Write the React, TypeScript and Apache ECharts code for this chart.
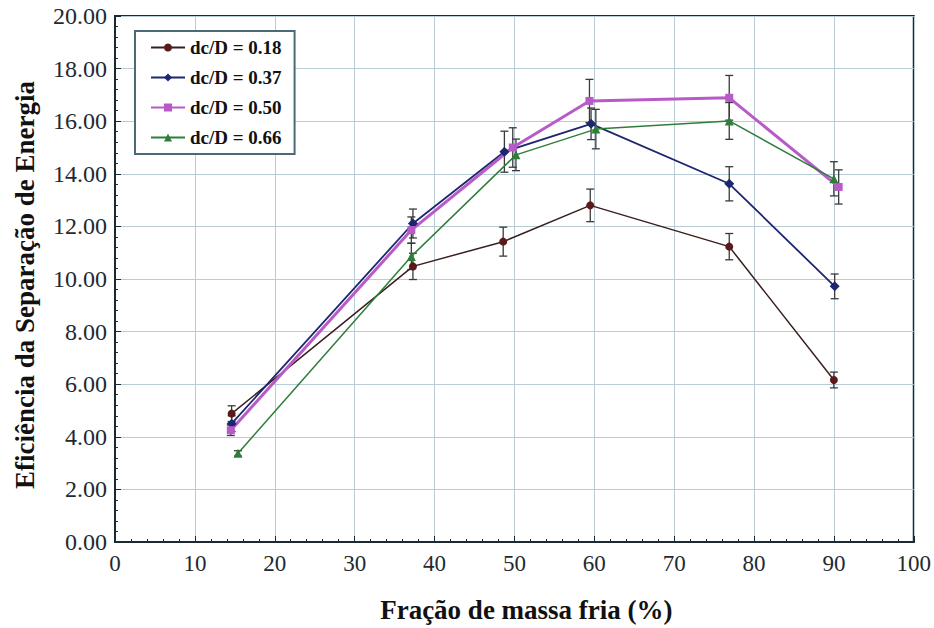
import React, { useEffect, useRef } from "react";
import * as echarts from "echarts";

const seriesNames = ["dc/D = 0.18", "dc/D = 0.37", "dc/D = 0.50", "dc/D = 0.66"];

const x018 = [14.6, 37.3, 48.6, 59.5, 76.9, 90.0];
const y018 = [4.88, 10.48, 11.42, 12.8, 11.23, 6.16];
const e018 = [0.3, 0.5, 0.55, 0.62, 0.5, 0.3];

const x037 = [14.6, 37.3, 48.75, 59.6, 76.9, 90.1];
const y037 = [4.5, 12.11, 14.84, 15.9, 13.62, 9.72];
const e037 = [0.3, 0.55, 0.78, 0.6, 0.65, 0.47];

const x050 = [14.5, 37.1, 49.8, 59.4, 76.9, 90.6];
const y050 = [4.25, 11.86, 15.0, 16.77, 16.89, 13.5];
const e050 = [0.2, 0.5, 0.75, 0.82, 0.85, 0.65];

const x066 = [15.4, 37.1, 50.2, 60.2, 76.9, 90.0];
const y066 = [3.37, 10.86, 14.72, 15.7, 16.01, 13.81];
const e066 = [0.1, 0.5, 0.6, 0.75, 0.7, 0.65];

const colors = ["#5a1a1a", "#1c2770", "#b95ac9", "#2f7d3a"];
const lineColors = ["#3a1e1e", "#1c2770", "#b95ac9", "#2f7d3a"];
const symbols = ["circle", "diamond", "rect", "triangle"];
const symbolSizes = [8, 10, 8, 9];
const lineWidths = [1.5, 1.8, 3, 1.5];

const xs = [x018, x037, x050, x066];
const ys = [y018, y037, y050, y066];
const es = [e018, e037, e050, e066];

const serif = "'Liberation Serif', 'DejaVu Serif', serif";

export default function App() {
  const ref = useRef<HTMLDivElement>(null);
  useEffect(() => {
    document.body.style.margin = "0";
    const chart = echarts.init(ref.current!, null, { renderer: "svg" });
    const lineSeries: any[] = seriesNames.map((name, i) => ({
      name,
      type: "line",
      data: xs[i].map((x, j) => [x, ys[i][j]]),
      symbol: symbols[i],
      symbolSize: symbolSizes[i],
      itemStyle: { color: colors[i] },
      lineStyle: { color: lineColors[i], width: lineWidths[i] },
      z: 3,
    }));
    const errSeries: any[] = seriesNames.map((name, i) => ({
      name: name + " err",
      type: "custom",
      data: xs[i].map((x, j) => [x, ys[i][j] - es[i][j], ys[i][j] + es[i][j]]),
      encode: { x: 0, y: [1, 2] },
      z: 2,
      silent: true,
      renderItem: (params: any, api: any) => {
        const x = api.value(0);
        const lo = api.value(1);
        const hi = api.value(2);
        const p1 = api.coord([x, hi]);
        const p2 = api.coord([x, lo]);
        const w = 4;
        const st = { stroke: "#3a3a3a", lineWidth: 1.3 };
        return {
          type: "group",
          children: [
            { type: "line", shape: { x1: p1[0], y1: p1[1], x2: p2[0], y2: p2[1] }, style: st },
            { type: "line", shape: { x1: p1[0] - w, y1: p1[1], x2: p1[0] + w, y2: p1[1] }, style: st },
            { type: "line", shape: { x1: p2[0] - w, y1: p2[1], x2: p2[0] + w, y2: p2[1] }, style: st },
          ],
        };
      },
    }));
    chart.setOption({
      animation: false,
      backgroundColor: "#ffffff",
      grid: {
        left: 115,
        right: 19,
        top: 16,
        bottom: 82,
        show: true,
        borderColor: "#1a2a30",
        borderWidth: 2,
      },
      legend: {
        data: seriesNames,
        orient: "vertical",
        left: 135,
        top: 31,
        itemWidth: 34,
        itemHeight: 10,
        itemGap: 11,
        padding: [7, 13, 7, 15],
        borderColor: "#4a6a78",
        borderWidth: 2,
        backgroundColor: "#ffffff",
        textStyle: { fontFamily: serif, fontWeight: "bold", fontSize: 19, color: "#111" },
      },
      xAxis: {
        type: "value",
        min: 0,
        max: 100,
        interval: 10,
        name: "Fração de massa fria (%)",
        nameLocation: "middle",
        nameGap: 54,
        nameTextStyle: {
          fontFamily: serif,
          fontWeight: "bold",
          fontSize: 27,
          color: "#111",
          padding: [0, 0, 0, 24],
        },
        axisLine: { show: true, lineStyle: { color: "#1a2a30", width: 2 } },
        axisTick: { show: true, inside: true, length: 6, lineStyle: { color: "#1a2a30" } },
        minorTick: { show: true, splitNumber: 5, length: 3, lineStyle: { color: "#1a2a30" } },
        axisLabel: { fontFamily: serif, fontSize: 23, color: "#1e2a30", margin: 10 },
        splitLine: { show: true, lineStyle: { color: "#b8ccd6", width: 1 } },
      },
      yAxis: {
        type: "value",
        min: 0,
        max: 20,
        interval: 2,
        name: "Eficiência da Separação de Energia",
        nameLocation: "middle",
        nameGap: 77,
        nameTextStyle: {
          fontFamily: serif,
          fontWeight: "bold",
          fontSize: 27,
          color: "#111",
          padding: [0, 12, 0, 0],
        },
        axisLine: { show: true, lineStyle: { color: "#1a2a30", width: 2 } },
        axisTick: { show: true, inside: true, length: 6, lineStyle: { color: "#1a2a30" } },
        minorTick: { show: true, splitNumber: 5, length: 3, lineStyle: { color: "#1a2a30" } },
        axisLabel: {
          fontFamily: serif,
          fontSize: 24,
          color: "#1e2a30",
          margin: 8,
          formatter: (v: number) => v.toFixed(2),
        },
        splitLine: { show: true, lineStyle: { color: "#b8ccd6", width: 1 } },
      },
      series: [...errSeries, ...lineSeries],
    });
    return () => chart.dispose();
  }, []);
  return <div ref={ref} style={{ width: 934, height: 628 }} />;
}
